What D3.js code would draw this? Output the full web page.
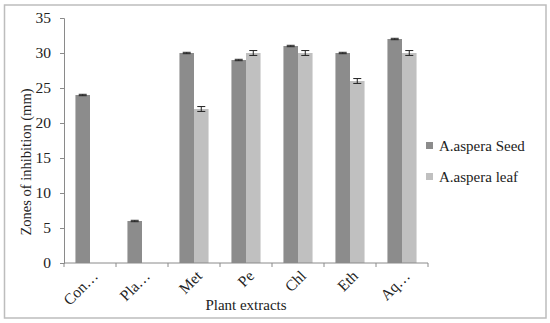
<!DOCTYPE html>
<html><head><meta charset="utf-8">
<script src="https://cdn.jsdelivr.net/npm/d3@7"></script>
<style>body{margin:0;background:#fff}svg{display:block}</style>
</head><body>
<script>
const categories = ["Con…", "Pla…", "Met", "Pe", "Chl", "Eth", "Aq…"];
const seriesNames = ["A.aspera Seed", "A.aspera leaf"];
const seedValues = [24, 6, 30, 29, 31, 30, 32];
const leafValues = [null, null, 22, 30, 30, 26, 30];
const seedErrors = [0.1, 0.1, 0.1, 0.1, 0.1, 0.1, 0.1];
const leafErrors = [null, null, 0.35, 0.35, 0.35, 0.35, 0.35];
const yTicks = [0, 5, 10, 15, 20, 25, 30, 35];
const colors = ["#8c8c8c", "#c0c0c0"];

const W = 550, H = 323;
const m = {left: 64, right: 122, top: 18, bottom: 60};
const font = "'Liberation Serif', serif";
const svg = d3.select("body").append("svg").attr("width", W).attr("height", H);
svg.append("rect").attr("x", 4.5).attr("y", 5).attr("width", 541.5).attr("height", 313)
  .attr("fill", "#fff").attr("stroke", "#bdbdbd").attr("stroke-width", 1.5);

const x0 = d3.scaleBand().domain(categories).range([m.left, W - m.right]).paddingInner(0.44).paddingOuter(0.22);
const x1 = d3.scaleBand().domain([0, 1]).range([0, x0.bandwidth()]);
const y = d3.scaleLinear().domain([0, 35]).range([H - m.bottom, m.top]);

const series = [seedValues, leafValues];
const errs = [seedErrors, leafErrors];
series.forEach((vals, si) => {
  const g = svg.append("g");
  const data = categories.map((c, i) => ({c, v: vals[i], e: errs[si][i]})).filter(d => d.v != null);
  g.selectAll("rect").data(data).join("rect")
    .attr("x", d => x0(d.c) + x1(si)).attr("width", x1.bandwidth())
    .attr("y", d => y(d.v)).attr("height", d => y(0) - y(d.v)).attr("fill", colors[si]);
  const eb = g.selectAll("g.e").data(data).join("g").attr("class", "e")
    .attr("stroke", "#222").attr("stroke-width", 1);
  const cx = d => x0(d.c) + x1(si) + x1.bandwidth() / 2;
  eb.append("line").attr("x1", cx).attr("x2", cx).attr("y1", d => y(d.v + d.e)).attr("y2", d => y(d.v - d.e));
  eb.append("line").attr("x1", d => cx(d) - 4).attr("x2", d => cx(d) + 4).attr("y1", d => y(d.v + d.e)).attr("y2", d => y(d.v + d.e));
  eb.append("line").attr("x1", d => cx(d) - 4).attr("x2", d => cx(d) + 4).attr("y1", d => y(d.v - d.e)).attr("y2", d => y(d.v - d.e));
});

// y axis
const ya = svg.append("g").attr("transform", `translate(${m.left},0)`)
  .call(d3.axisLeft(y).tickValues(yTicks).tickSize(4).tickPadding(9));
ya.select(".domain").attr("stroke", "#8a8a8a");
ya.selectAll(".tick line").attr("stroke", "#8a8a8a");
ya.selectAll("text").attr("font-family", font).attr("font-size", 15.5).attr("fill", "#222");

// x axis
const xa = svg.append("g").attr("transform", `translate(0,${y(0)})`);
xa.append("line").attr("x1", m.left).attr("x2", W - m.right).attr("stroke", "#8a8a8a");
const bounds = categories.map((c, i) => m.left + i * (W - m.right - m.left) / categories.length).concat([W - m.right]);
xa.selectAll("line.t").data(bounds).join("line").attr("class", "t")
  .attr("x1", d => d).attr("x2", d => d).attr("y1", 0).attr("y2", 4).attr("stroke", "#8a8a8a");
xa.selectAll("text").data(categories).join("text")
  .attr("transform", d => `translate(${x0(d) + x0.bandwidth() / 2 + 9},${14}) rotate(-45)`)
  .attr("text-anchor", "end").attr("font-family", font).attr("font-size", 15.5).attr("fill", "#222")
  .text(d => d);

svg.append("text").attr("x", (m.left + W - m.right) / 2).attr("y", 310)
  .attr("text-anchor", "middle").attr("font-family", font).attr("font-size", 15).attr("fill", "#222")
  .text("Plant extracts");
svg.append("text").attr("transform", `translate(31,162) rotate(-90)`)
  .attr("text-anchor", "middle").attr("font-family", font).attr("font-size", 14.5).attr("fill", "#222")
  .text("Zones of inhibition (mm)");

// legend
const lg = svg.append("g").selectAll("g").data(seriesNames).join("g")
  .attr("transform", (d, i) => `translate(426,${146 + i * 31})`);
lg.append("rect").attr("x", 0).attr("y", -4).attr("width", 7).attr("height", 7).attr("fill", (d, i) => colors[i]);
lg.append("text").attr("x", 13).attr("y", 5).attr("font-family", font).attr("font-size", 15).attr("fill", "#222").text(d => d);
</script>
</body></html>
